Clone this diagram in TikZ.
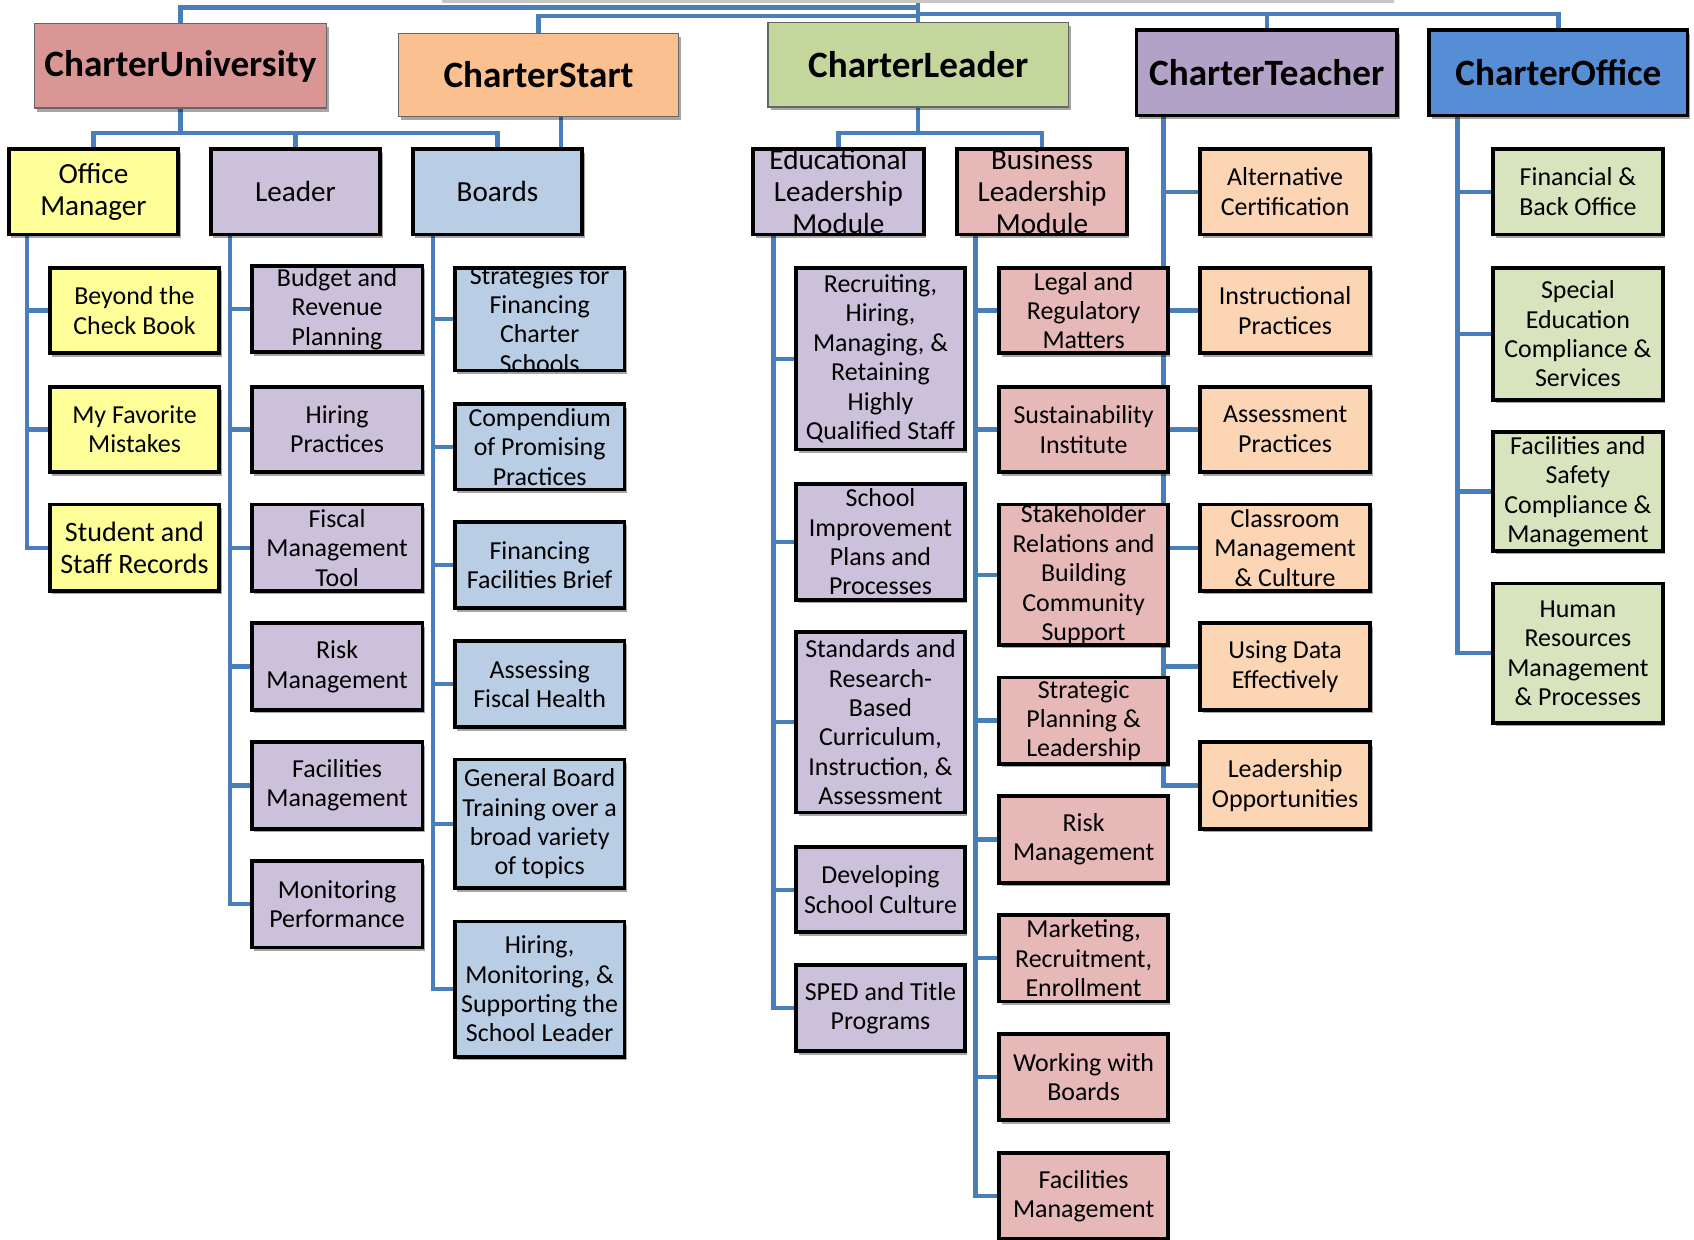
\documentclass[tikz,border=0pt]{standalone}
\usepackage{fontspec}
\setmainfont{Carlito}
\usetikzlibrary{shadows,backgrounds}
\definecolor{linec}{HTML}{4A7EBB}
\definecolor{cCU}{HTML}{D99694}
\definecolor{cCS}{HTML}{FAC090}
\definecolor{cCL}{HTML}{C3D69B}
\definecolor{cCT}{HTML}{B3A2C7}
\definecolor{cCO}{HTML}{558ED5}
\definecolor{cY}{HTML}{FFFF99}
\definecolor{cP}{HTML}{CCC1DA}
\definecolor{cB}{HTML}{B9CDE5}
\definecolor{cR}{HTML}{E6B9B8}
\definecolor{cO}{HTML}{FCD5B5}
\definecolor{cG}{HTML}{D7E4BD}
\tikzset{
  conn/.style={draw=linec, line width=2pt},
  shad/.style={drop shadow={shadow xshift=1.2pt, shadow yshift=-1.6pt, opacity=0.35, fill=black}},
  bxb/.style={rectangle, draw=black, line width=1.75pt, inner sep=0pt, shad},
  thinb/.style={rectangle, draw=gray!80!black, line width=0.6pt, inner sep=0pt, shad},
  t12/.style={align=center, inner sep=0pt, font=\fontsize{12}{13.6}\selectfont},
  t13/.style={align=center, inner sep=0pt, font=\fontsize{13}{14.5}\selectfont},
  t135/.style={align=center, inner sep=0pt, font=\fontsize{13.5}{14.75}\selectfont},
  ttl/.style={align=center, inner sep=0pt, font=\fontsize{17.2}{20}\selectfont\bfseries},
}
% \bx{name}{cx}{cy}{w}{h}{box style}{text style}{text}
\newcommand\bx[8]{%
  \node[#6, minimum width=#4*0.5pt, minimum height=#5*0.5pt] (#1) at (#2,#3) {};
  \node[#7] (#1-t) at (#1.center) {#8};}
\begin{document}
\begin{tikzpicture}[x=0.5pt, y=-0.5pt]
\useasboundingbox (0,0) rectangle (1568,1147);
% cut-off root box
\node[rectangle, fill=gray!45, inner sep=0pt, minimum width=440.5pt, minimum height=22.5pt] (root) at (850,-20) {};
% top level
\bx{cu}{167}{61}{270}{78}{thinb,fill=cCU}{ttl}{CharterUniversity}
\bx{cs}{498.5}{69.5}{259}{77}{thinb,fill=cCS}{ttl}{CharterStart}
\bx{cl}{850}{60}{278}{78}{thinb,fill=cCL}{ttl}{CharterLeader}
\bx{ct}{1172.5}{67.5}{241}{79}{bxb,fill=cCT}{ttl}{CharterTeacher}
\bx{co}{1442.5}{67.5}{239}{79}{bxb,fill=cCO}{ttl}{CharterOffice}
% second level
\bx{om}{86.5}{177.5}{157}{79}{bxb,fill=cY}{t135}{Office\\Manager}
\bx{ld}{273.5}{177.5}{157}{79}{bxb,fill=cP}{t135}{Leader}
\bx{bd}{460.5}{177.5}{157}{79}{bxb,fill=cB}{t135}{Boards}
\bx{el}{776}{177.5}{158}{79}{bxb,fill=cP}{t135}{Educational\\Leadership\\Module}
\bx{bl}{964.5}{177.5}{157}{79}{bxb,fill=cR}{t135}{Business\\Leadership\\Module}
% office manager
\bx{bcb}{124.5}{287.5}{157}{79}{bxb,fill=cY}{t12}{Beyond the\\Check Book}
\bx{mfm}{124.5}{397.5}{157}{79}{bxb,fill=cY}{t12}{My Favorite\\Mistakes}
\bx{ssr}{124.5}{507}{157}{80}{bxb,fill=cY}{t13}{Student and\\Staff Records}
% leader
\bx{brp}{312}{286}{158}{80}{bxb,fill=cP}{t12}{Budget and\\Revenue\\Planning}
\bx{hp}{312}{397.5}{158}{79}{bxb,fill=cP}{t12}{Hiring\\Practices}
\bx{fmt}{312}{507}{158}{80}{bxb,fill=cP}{t12}{Fiscal\\Management\\Tool}
\bx{rm}{312}{617}{158}{80}{bxb,fill=cP}{t12}{Risk\\Management}
\bx{fm}{312}{727}{158}{80}{bxb,fill=cP}{t12}{Facilities\\Management}
\bx{mp}{312}{837}{158}{80}{bxb,fill=cP}{t12}{Monitoring\\Performance}
% boards
\bx{sfc}{499.5}{295.5}{157}{95}{bxb,fill=cB}{t12}{Strategies for\\Financing\\Charter\\Schools}
\bx{cpp}{499.5}{413.5}{157}{79}{bxb,fill=cB}{t12}{Compendium\\of Promising\\Practices}
\bx{ffb}{499.5}{523}{157}{80}{bxb,fill=cB}{t12}{Financing\\Facilities Brief}
\bx{afh}{499.5}{633}{157}{80}{bxb,fill=cB}{t12}{Assessing\\Fiscal Health}
\bx{gbt}{499.5}{762.5}{157}{119}{bxb,fill=cB}{t12}{General Board\\Training over a\\broad variety\\of topics}
\bx{hms}{499.5}{915.5}{157}{125}{bxb,fill=cB}{t12}{Hiring,\\Monitoring, \&\\Supporting the\\School Leader}
% educational leadership
\bx{rhm}{815}{332}{156}{168}{bxb,fill=cP}{t12}{Recruiting,\\Hiring,\\Managing, \&\\Retaining\\Highly\\Qualified Staff}
\bx{sip}{815}{501.5}{156}{107}{bxb,fill=cP}{t12}{School\\Improvement\\Plans and\\Processes}
\bx{src}{815}{668.5}{156}{167}{bxb,fill=cP}{t12}{Standards and\\Research-\\Based\\Curriculum,\\Instruction, \&\\Assessment}
\bx{dsc}{815}{823.5}{156}{79}{bxb,fill=cP}{t12}{Developing\\School Culture}
\bx{spd}{815}{933}{156}{80}{bxb,fill=cP}{t12}{SPED and Title\\Programs}
% business leadership
\bx{lrm}{1003}{287.5}{156}{79}{bxb,fill=cR}{t12}{Legal and\\Regulatory\\Matters}
\bx{si}{1003}{397.5}{156}{79}{bxb,fill=cR}{t12}{Sustainability\\Institute}
\bx{srb}{1003}{532}{156}{130}{bxb,fill=cR}{t12}{Stakeholder\\Relations and\\Building\\Community\\Support}
\bx{spl}{1003}{667}{156}{80}{bxb,fill=cR}{t12}{Strategic\\Planning \&\\Leadership}
\bx{rmb}{1003}{777}{156}{80}{bxb,fill=cR}{t12}{Risk\\Management}
\bx{mre}{1003}{887}{156}{80}{bxb,fill=cR}{t12}{Marketing,\\Recruitment,\\Enrollment}
\bx{wwb}{1003}{997}{156}{80}{bxb,fill=cR}{t12}{Working with\\Boards}
\bx{fmb}{1003}{1107}{156}{80}{bxb,fill=cR}{t12}{Facilities\\Management}
% teacher
\bx{ac}{1189.5}{177.5}{157}{79}{bxb,fill=cO}{t12}{Alternative\\Certification}
\bx{ip}{1189.5}{287.5}{157}{79}{bxb,fill=cO}{t12}{Instructional\\Practices}
\bx{ap}{1189.5}{397.5}{157}{79}{bxb,fill=cO}{t12}{Assessment\\Practices}
\bx{cmc}{1189.5}{507}{157}{80}{bxb,fill=cO}{t12}{Classroom\\Management\\\& Culture}
\bx{ude}{1189.5}{617}{157}{80}{bxb,fill=cO}{t12}{Using Data\\Effectively}
\bx{lo}{1189.5}{727}{157}{80}{bxb,fill=cO}{t12}{Leadership\\Opportunities}
% office
\bx{fbo}{1460.5}{177.5}{157}{79}{bxb,fill=cG}{t12}{Financial \&\\Back Office}
\bx{sec}{1460.5}{309}{157}{122}{bxb,fill=cG}{t12}{Special\\Education\\Compliance \&\\Services}
\bx{fsc}{1460.5}{455}{157}{110}{bxb,fill=cG}{t12}{Facilities and\\Safety\\Compliance \&\\Management}
\bx{hrm}{1460.5}{604.5}{157}{129}{bxb,fill=cG}{t12}{Human\\Resources\\Management\\\& Processes}
% connectors
\begin{pgfonlayer}{background}
\coordinate (j1) at (850,7);
\coordinate (j2) at (850,15);
\coordinate (j3) at (850,13);
\draw[conn] (root.south) -- (cl.north);
\draw[conn] (j1) -| (cu.north);
\draw[conn] (j2) -| (cs.north);
\draw[conn] (j3) -| (ct.north);
\draw[conn] (j3) -| (co.north);
\coordinate (b1) at (167,123);
\draw[conn] (cu.south) -- (b1) -| (om.north);
\draw[conn] (b1) -| (ld.north);
\draw[conn] (b1) -| (bd.north);
\coordinate (xcs) at (519,0);
\draw[conn] (cs.south -| xcs) -- (bd.north -| xcs);
\coordinate (b2) at (850,123);
\draw[conn] (cl.south) -- (b2) -| (el.north);
\draw[conn] (b2) -| (bl.north);
\coordinate (xom) at (25,0);
\coordinate (xld) at (213,0);
\coordinate (xbd) at (401,0);
\coordinate (xel) at (716,0);
\coordinate (xbl) at (903,0);
\coordinate (xct) at (1077,0);
\coordinate (xco) at (1349,0);
\foreach \c in {bcb,mfm,ssr} \draw[conn] (om.south -| xom) |- (\c.west);
\foreach \c in {brp,hp,fmt,rm,fm,mp} \draw[conn] (ld.south -| xld) |- (\c.west);
\foreach \c in {sfc,cpp,ffb,afh,gbt,hms} \draw[conn] (bd.south -| xbd) |- (\c.west);
\foreach \c in {rhm,sip,src,dsc,spd} \draw[conn] (el.south -| xel) |- (\c.west);
\foreach \c in {lrm,si,srb,spl,rmb,mre,wwb,fmb} \draw[conn] (bl.south -| xbl) |- (\c.west);
\foreach \c in {ac,ip,ap,cmc,ude,lo} \draw[conn] (ct.south -| xct) |- (\c.west);
\foreach \c in {fbo,sec,fsc,hrm} \draw[conn] (co.south -| xco) |- (\c.west);
\end{pgfonlayer}
\end{tikzpicture}
\end{document}
